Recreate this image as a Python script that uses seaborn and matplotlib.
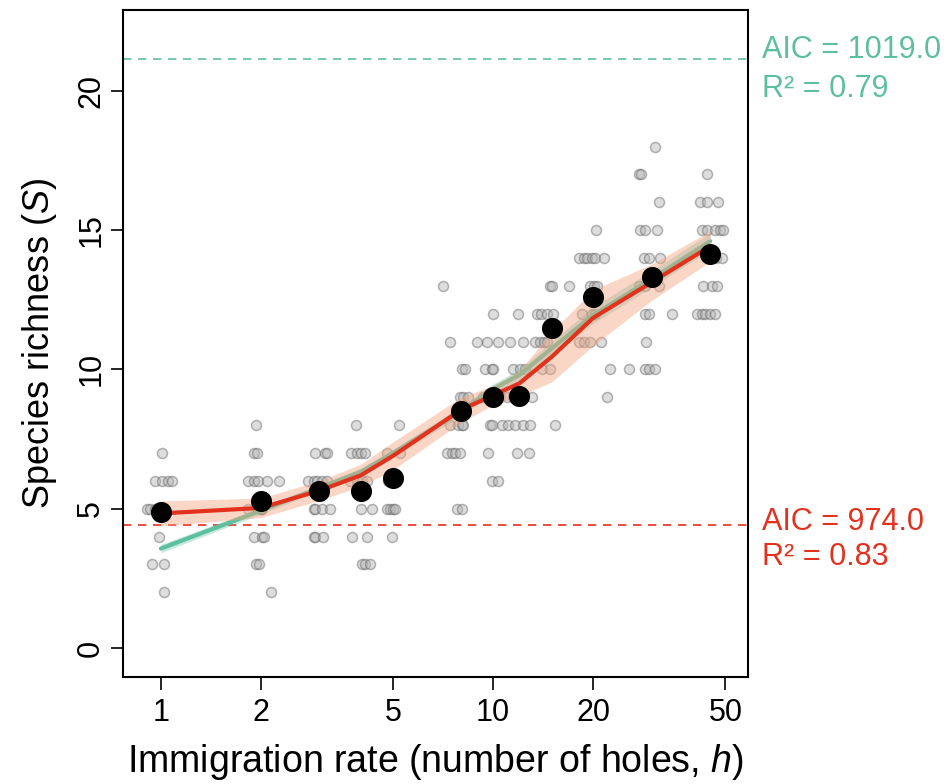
import numpy as np
import pandas as pd
import matplotlib
matplotlib.use("Agg")
import matplotlib.pyplot as plt
import seaborn as sns

# immigration treatments (number of holes)
holes = [1, 2, 3, 4, 5, 8, 10, 12, 15, 20, 30, 45]

# mean species richness per treatment (black dots)
mean_S = [4.9, 5.28, 5.65, 5.65, 6.1, 8.5, 9.0, 9.05, 11.5, 12.6, 13.33, 14.15]

# fitted model 1 (red, AIC 974) and its confidence band half-width
red_fit = [4.83, 5.03, 5.65, 6.2, 6.9, 8.55, 9.07, 9.5, 10.45, 11.85, 13.13, 14.42]
red_se = [0.45, 0.35, 0.35, 0.4, 0.5, 0.45, 0.35, 0.45, 0.9, 1.0, 0.65, 0.55]

# fitted model 2 (green, AIC 1019) and its band half-width
green_fit = [3.57, 4.93, 5.75, 6.33, 7.0, 8.5, 9.3, 9.8, 10.75, 11.95, 13.25, 14.6]
green_se = [0.15, 0.12, 0.12, 0.12, 0.14, 0.16, 0.18, 0.2, 0.25, 0.3, 0.3, 0.3]

# raw replicate observations (jittered h, richness)
obs_h = [
    1.01, 0.96, 1.01, 1.05, 1.08, 0.91, 0.93, 0.96, 0.99, 1.01, 0.99, 0.94, 1.02, 1.02,
    1.93, 1.90, 1.94, 1.83, 1.91, 1.96, 2.08, 2.26, 1.83, 1.99, 2.00, 2.02, 1.91, 2.01, 2.04,
    1.93, 1.98, 2.14,
    2.91, 3.12, 3.16, 2.78, 2.88, 2.94, 3.05, 3.16, 2.88, 2.91, 3.05, 3.23, 2.88, 2.91, 3.08,
    3.86, 3.73, 3.89, 4.00, 4.12, 3.71, 3.89, 4.02, 4.17, 4.00, 4.31, 3.77, 4.17, 4.02, 4.12, 4.26,
    5.19, 4.78, 5.25, 4.83, 5.10, 4.78, 4.90, 5.01, 5.07, 4.97,
    7.06, 7.42, 8.05, 8.24, 7.96, 8.14, 8.43, 7.42, 7.86, 8.05, 8.14, 7.25, 7.51, 7.68, 7.96,
    7.78, 8.05,
    10.02, 8.93, 9.57, 10.37, 9.46, 9.91, 10.02, 9.33, 10.0, 10.5, 9.79, 9.91, 10.62, 11.12,
    9.68, 9.91, 10.37,
    11.92, 11.25, 12.34, 11.51, 12.06, 12.49, 11.0, 11.51, 13.08, 11.65, 12.34, 12.93, 11.79, 12.78,
    13.54, 13.95, 14.51, 15.19, 13.38, 13.86, 14.18, 14.51, 14.85, 15.02, 16.86, 14.02, 14.85, 15.37,
    20.39, 18.07, 18.71, 19.15, 19.83, 20.29, 21.49, 19.6, 20.05, 20.53, 18.5, 19.83, 20.29,
    18.07, 18.71, 19.6, 21.1, 22.4, 25.68, 22.0,
    30.76, 27.4, 27.86, 31.47, 27.72, 28.7, 31.12, 28.37, 29.37, 31.84, 27.4, 28.7, 31.47,
    28.7, 29.37, 34.53, 28.9, 28.7, 29.37, 30.76,
    44.03, 42.03, 44.03, 47.37, 42.53, 44.03, 46.63, 48.28, 49.19, 45.04, 46.95, 48.85,
    42.82, 45.58, 47.17, 41.08, 42.53, 43.51, 45.04, 46.63,
]
obs_S = [
    7, 6, 6, 6, 6, 5, 5, 5, 5, 5, 4, 3, 3, 2,
    8, 7, 7, 6, 6, 6, 6, 6, 5, 5, 5, 5, 4, 4, 4,
    3, 3, 2,
    7, 7, 7, 6, 6, 6, 6, 6, 5, 5, 5, 5, 4, 4, 4,
    8, 7, 7, 7, 7, 6, 6, 6, 6, 5, 5, 4, 4, 3, 3, 3,
    8, 7, 7, 6, 6, 5, 5, 5, 5, 4,
    13, 11, 10, 10, 9, 9, 9, 8, 8, 8, 8, 7, 7, 7, 7,
    5, 5,
    12, 11, 11, 11, 10, 10, 10, 9, 9, 9, 8, 8, 8, 8,
    7, 6, 6,
    12, 11, 11, 10, 10, 10, 9, 9, 9, 8, 8, 8, 7, 7,
    12, 12, 12, 12, 11, 11, 11, 11, 13, 13, 13, 10, 10, 8,
    15, 14, 14, 14, 14, 14, 14, 13, 13, 13, 12, 12, 12,
    11, 11, 11, 11, 10, 10, 9,
    18, 17, 17, 16, 15, 15, 15, 14, 14, 14, 13, 13, 13,
    12, 12, 12, 11, 10, 10, 10,
    17, 16, 16, 16, 15, 15, 15, 15, 15, 14, 14, 14,
    13, 13, 13, 12, 12, 12, 12, 12,
]

aic_green = 1019.0
r2_green = 0.79
aic_red = 974.0
r2_red = 0.83

GREEN = "#5dbf9f"
RED = "#e2311d"

sns.set_style("white")
plt.rcParams['font.family'] = ['Liberation Sans', 'DejaVu Sans']
plt.rcParams['mathtext.fontset'] = 'custom'
plt.rcParams['mathtext.rm'] = 'Liberation Sans'
plt.rcParams['mathtext.it'] = 'Liberation Sans:italic'
plt.rcParams['text.color'] = 'black'
plt.rcParams['axes.labelcolor'] = 'black'
plt.rcParams['xtick.color'] = 'black'
plt.rcParams['ytick.color'] = 'black'

obs = pd.DataFrame({'h': obs_h, 'S': obs_S})
fits = pd.DataFrame({'h': holes, 'mean': mean_S, 'red': red_fit, 'red_se': red_se,
                     'green': green_fit, 'green_se': green_se})

fig = plt.figure(figsize=(9.52, 7.84), dpi=100)
ax = fig.add_axes([0.129, 0.1365, 0.657, 0.8507])
ax.set_xscale('log')

# raw data
sns.scatterplot(data=obs, x='h', y='S', ax=ax, s=52, color='#b5b5b5', alpha=0.45,
                edgecolor='#606060', linewidth=1.1, zorder=2)

# green model
ax.fill_between(fits['h'], fits['green'] - fits['green_se'], fits['green'] + fits['green_se'],
                color=GREEN, alpha=0.35, linewidth=0, zorder=3)
sns.lineplot(data=fits, x='h', y='green', ax=ax, color=GREEN, linewidth=3, zorder=3)

# red model
ax.fill_between(fits['h'], fits['red'] - fits['red_se'], fits['red'] + fits['red_se'],
                color='#f4a582', alpha=0.45, linewidth=0, zorder=4)
sns.lineplot(data=fits, x='h', y='red', ax=ax, color=RED, linewidth=3, zorder=5)

# treatment means
sns.scatterplot(data=fits, x='h', y='mean', ax=ax, s=230, color='black', edgecolor='black',
                linewidth=0, zorder=6)

# model reference lines
ax.axhline(21.15, color=GREEN, linestyle=(0, (5, 4)), linewidth=1.2, zorder=1)
ax.axhline(4.4, color=RED, linestyle=(0, (5, 4)), linewidth=1.2, zorder=1)

ax.set_xlim(0.768, 58.6)
ax.set_ylim(-1.04, 22.9)
ax.set_xticks([1, 2, 5, 10, 20, 50])
ax.set_xticklabels(['1', '2', '5', '10', '20', '50'])
ax.xaxis.set_minor_locator(matplotlib.ticker.NullLocator())
ax.set_yticks([0, 5, 10, 15, 20])
ax.tick_params(axis='both', direction='out', length=9, width=1.2, labelsize=22,
               bottom=True, left=True, color='black', labelcolor='black')
ax.tick_params(axis='x', pad=6)
ax.tick_params(axis='y', pad=3)
for lab in ax.get_yticklabels():
    lab.set_rotation(90)
    lab.set_va('center')
for sp in ax.spines.values():
    sp.set_color('black')
    sp.set_linewidth(1.5)

ax.set_xlabel(r'Immigration rate (number of holes, $\mathit{h}$)', fontsize=27, labelpad=10)
ax.set_ylabel(r'Species richness ($\mathit{S}$)', fontsize=26, labelpad=12)

fig.text(0.800, 0.926, f'AIC = {aic_green:.1f}', color=GREEN, fontsize=22, va='baseline')
fig.text(0.800, 0.876, f'R² = {r2_green:.2f}', color=GREEN, fontsize=22, va='baseline')
fig.text(0.800, 0.324, f'AIC = {aic_red:.1f}', color=RED, fontsize=22, va='baseline')
fig.text(0.800, 0.279, f'R² = {r2_red:.2f}', color=RED, fontsize=22, va='baseline')

fig.savefig('out.png', dpi=100)
